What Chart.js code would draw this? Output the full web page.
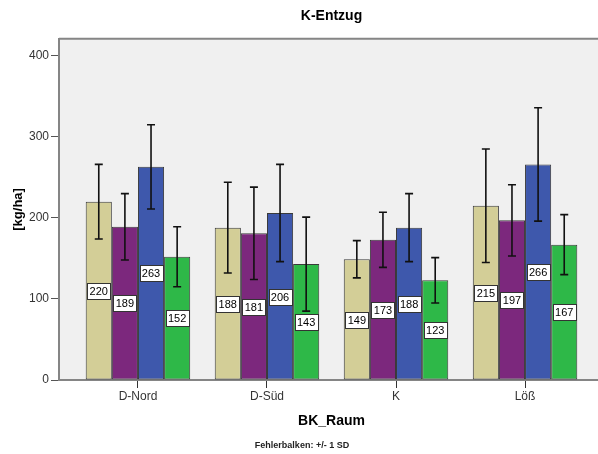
<!DOCTYPE html>
<html>
<head>
<meta charset="utf-8">
<title>K-Entzug</title>
<script src="https://cdn.jsdelivr.net/npm/chart.js@4/dist/chart.umd.min.js"></script>
<style>
  html, body { margin: 0; padding: 0; background: #fff; overflow: hidden; }
  #wrap { width: 612px; height: 454px; }
</style>
</head>
<body>
<div id="wrap"><canvas id="kChart" width="612" height="454"></canvas></div>
<script>
// Data
const categories = ['D-Nord', 'D-Süd', 'K', 'Löß'];
const yTicks = [0, 100, 200, 300, 400];

const tanValues = [220, 188, 149, 215];
const purpleValues = [189, 181, 173, 197];
const blueValues = [263, 206, 188, 266];
const greenValues = [152, 143, 123, 167];

// +/- 1 SD
const tanSD = [46, 56, 23, 70];
const purpleSD = [41, 57, 34, 44];
const blueSD = [52, 60, 42, 70];
const greenSD = [37, 58, 28, 37];

const seriesColors = ['#d3ce97', '#7c287d', '#3e58ac', '#2eb848'];

function toPoints(values) {
  return values.map((v, i) => ({ x: i + 1, y: v }));
}

Chart.defaults.font.family = '"Liberation Sans", Arial, sans-serif';
Chart.defaults.color = '#333';

// plot background + top frame line
const plotFrame = {
  id: 'plotFrame',
  beforeDraw(chart) {
    const { ctx, chartArea: a } = chart;
    ctx.save();
    ctx.fillStyle = '#fff';
    ctx.fillRect(0, 0, chart.width, chart.height);
    ctx.fillStyle = '#f0f0f0';
    ctx.fillRect(a.left, a.top, a.right - a.left, a.bottom - a.top);
    ctx.strokeStyle = '#858585';
    ctx.lineWidth = 2;
    ctx.beginPath();
    ctx.moveTo(a.left, a.top);
    ctx.lineTo(a.right, a.top);
    ctx.stroke();
    ctx.restore();
  }
};

// error bars and value boxes
const barExtras = {
  id: 'barExtras',
  afterDatasetsDraw(chart) {
    const { ctx } = chart;
    const yScale = chart.scales.y;
    ctx.save();
    chart.data.datasets.forEach((ds, di) => {
      const meta = chart.getDatasetMeta(di);
      meta.data.forEach((bar, i) => {
        const v = ds.data[i].y;
        const sd = ds.sd[i];
        const yTop = yScale.getPixelForValue(v + sd);
        const yBot = yScale.getPixelForValue(v - sd);
        ctx.strokeStyle = '#111';
        ctx.lineWidth = 1.6;
        ctx.beginPath();
        ctx.moveTo(bar.x, yTop);
        ctx.lineTo(bar.x, yBot);
        ctx.moveTo(bar.x - 4, yTop);
        ctx.lineTo(bar.x + 4, yTop);
        ctx.moveTo(bar.x - 4, yBot);
        ctx.lineTo(bar.x + 4, yBot);
        ctx.stroke();
      });
    });
    chart.data.datasets.forEach((ds, di) => {
      const meta = chart.getDatasetMeta(di);
      meta.data.forEach((bar, i) => {
        const v = ds.data[i].y;
        const yMid = yScale.getPixelForValue(v / 2);
        const w = 23, h = 16;
        const bx = Math.round(bar.x - w / 2) + 0.5;
        const by = Math.round(yMid - h / 2) + 0.5;
        ctx.fillStyle = '#fff';
        ctx.fillRect(bx, by, w, h);
        ctx.strokeStyle = '#333';
        ctx.lineWidth = 1;
        ctx.strokeRect(bx, by, w, h);
        ctx.fillStyle = '#000';
        ctx.font = '11px "Liberation Sans", Arial, sans-serif';
        ctx.textAlign = 'center';
        ctx.textBaseline = 'middle';
        ctx.fillText(String(v), bar.x, yMid + 1);
      });
    });
    ctx.restore();
  }
};

const datasets = [
  { label: 'A', data: toPoints(tanValues), sd: tanSD },
  { label: 'B', data: toPoints(purpleValues), sd: purpleSD },
  { label: 'C', data: toPoints(blueValues), sd: blueSD },
  { label: 'D', data: toPoints(greenValues), sd: greenSD }
].map((ds, i) => Object.assign(ds, {
  backgroundColor: seriesColors[i],
  borderColor: '#3a3a3a',
  borderWidth: 1,
  borderSkipped: false,
  categoryPercentage: 0.81,
  barPercentage: 1.0
}));

new Chart(document.getElementById('kChart'), {
  type: 'bar',
  data: { datasets: datasets },
  options: {
    responsive: false,
    animation: false,
    layout: { padding: { left: 0, right: 8, top: 2, bottom: 0 } },
    plugins: {
      legend: { display: false },
      tooltip: { enabled: false },
      title: {
        display: true,
        text: 'K-Entzug',
        fullSize: false,
        color: '#000',
        font: { size: 14, weight: 'bold' },
        padding: { top: 6, bottom: 14 }
      },
      subtitle: {
        display: true,
        position: 'bottom',
        text: 'Fehlerbalken: +/- 1 SD',
        color: '#222',
        font: { size: 9, weight: 'bold' },
        padding: { top: 0, bottom: 3 }
      }
    },
    scales: {
      x: {
        type: 'linear',
        min: 0.388,
        max: 4.612,
        offset: false,
        afterBuildTicks(scale) {
          scale.ticks = categories.map((c, i) => ({ value: i + 1 }));
        },
        afterFit(scale) { scale.height = 60.2; },
        grid: { drawOnChartArea: false, offset: false, tickLength: 8, color: '#333', lineWidth: 1 },
        border: { color: '#858585', width: 2 },
        ticks: {
          padding: 1,
          color: '#333',
          font: { size: 12 },
          callback: (v) => categories[v - 1] || ''
        },
        title: {
          display: true,
          text: 'BK_Raum',
          color: '#000',
          font: { size: 14, weight: 'bold' },
          padding: { top: 0, bottom: 11 }
        }
      },
      y: {
        min: 0,
        max: 421,
        afterBuildTicks(scale) {
          scale.ticks = yTicks.map(v => ({ value: v }));
        },
        afterFit(scale) { scale.width = 59; },
        grid: { drawOnChartArea: false, tickLength: 8, color: '#555', lineWidth: 1 },
        border: { color: '#858585', width: 2 },
        ticks: { padding: 2, color: '#333', font: { size: 12 } },
        title: {
          display: true,
          text: '[kg/ha]',
          color: '#000',
          font: { size: 13, weight: 'bold' },
          padding: { top: 11, bottom: 0 }
        }
      }
    }
  },
  plugins: [plotFrame, barExtras]
});
</script>
</body>
</html>
